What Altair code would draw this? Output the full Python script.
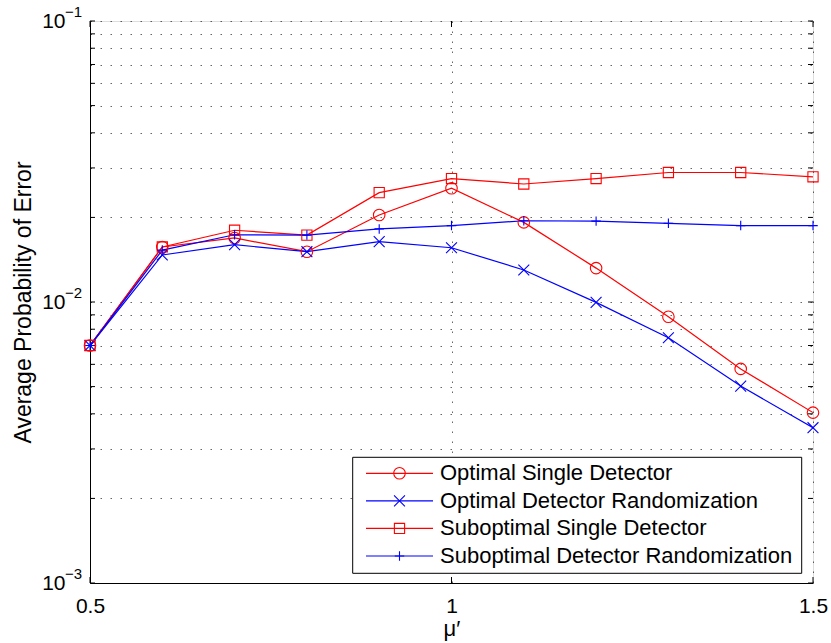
import altair as alt
import pandas as pd

# ---------------- data ----------------
mu = [0.5, 0.6, 0.7, 0.8, 0.9, 1.0, 1.1, 1.2, 1.3, 1.4, 1.5]
opt_single = [0.0070, 0.0157, 0.0169, 0.0151, 0.0204, 0.0254, 0.0192, 0.0132, 0.00886, 0.00578, 0.00404]
opt_rand = [0.0070, 0.0147, 0.0160, 0.0151, 0.0164, 0.0156, 0.0130, 0.00997, 0.00746, 0.00502, 0.00357]
sub_single = [0.0070, 0.0157, 0.0180, 0.0173, 0.0245, 0.0275, 0.0263, 0.0275, 0.0289, 0.0289, 0.0279]
sub_rand = [0.0070, 0.0153, 0.01735, 0.0173, 0.0182, 0.0187, 0.01946, 0.0194, 0.01906, 0.0187, 0.0187]

series_names = [
    "Optimal Single Detector",
    "Optimal Detector Randomization",
    "Suboptimal Single Detector",
    "Suboptimal Detector Randomization",
]
series_values = [opt_single, opt_rand, sub_single, sub_rand]

x_ticks = [0.5, 1.0, 1.5]
y_ticks = [0.001, 0.002, 0.003, 0.004, 0.005, 0.006, 0.007, 0.008, 0.009,
           0.01, 0.02, 0.03, 0.04, 0.05, 0.06, 0.07, 0.08, 0.09, 0.1]
y_major = [0.1, 0.01, 0.001]
y_exponents = ["\u22121", "\u22122", "\u22123"]

# ---------------- styles ----------------
FONT = "Liberation Sans"
X_PATH = "M-1,-1L1,1M-1,1L1,-1"
PLUS_PATH = "M-1,0L1,0M0,-1L0,1"
series_colors = ["#ff0000", "#0000ff", "#ff0000", "#0000ff"]
series_shapes = ["circle", X_PATH, "square", PLUS_PATH]
series_sizes = [133, 90, 114, 144]

W, H = 723, 562

rows = []
for name, vals in zip(series_names, series_values):
    for m, v in zip(mu, vals):
        rows.append({"mu": m, "p": v, "series": name})
df = pd.DataFrame(rows)

xscale = alt.Scale(domain=[0.5, 1.5], nice=False, zero=False)
yscale = alt.Scale(type="log", domain=[0.001, 0.1], nice=False)
color = alt.Color("series:N", scale=alt.Scale(domain=series_names, range=series_colors), legend=None)
shape = alt.Shape("series:N", scale=alt.Scale(domain=series_names, range=series_shapes), legend=None)
size = alt.Size("series:N", scale=alt.Scale(domain=series_names, range=series_sizes), legend=None)

grid_dash = [1.5, 8.5]
axis_style = dict(
    labelFont=FONT, titleFont=FONT, labelFontSize=21,
    labelColor="black", titleColor="black", titleFontWeight="normal",
    domainColor="black", domainWidth=1, ticks=False, tickSize=0,
    labelFlush=False, grid=True, gridDash=grid_dash, gridColor="#000000",
    gridOpacity=0.6,
)

lines = alt.Chart(df).mark_line(strokeWidth=1.2, clip=True).encode(
    x=alt.X("mu:Q", scale=xscale, axis=alt.Axis(
        values=x_ticks, format="~g", labelPadding=12, titleFontSize=22,
        title="\u03bc\u2032", titlePadding=2, **axis_style)),
    y=alt.Y("p:Q", scale=yscale, axis=alt.Axis(
        values=y_ticks,
        labelExpr="abs(log(datum.value)/LN10 - round(log(datum.value)/LN10)) < 1e-6 ? '10' : ''",
        labelPadding=25, labelOverlap=False, titleFontSize=23,
        title="Average Probability of Error", titlePadding=6, **axis_style)),
    color=color,
    detail="series:N",
)

points = alt.Chart(df).mark_point(filled=False, strokeWidth=1.1, opacity=1).encode(
    x=alt.X("mu:Q", scale=xscale),
    y=alt.Y("p:Q", scale=yscale),
    color=color, shape=shape, size=size,
)

ytick_df = pd.DataFrame({"v": y_ticks})
left_ticks = alt.Chart(ytick_df).mark_rule(color="black", strokeWidth=1).encode(
    y=alt.Y("v:Q", scale=yscale), x=alt.value(0), x2=alt.value(5))
right_ticks = alt.Chart(ytick_df).mark_rule(color="black", strokeWidth=1).encode(
    y=alt.Y("v:Q", scale=yscale), x=alt.value(W - 5), x2=alt.value(W))

xtick_df = pd.DataFrame({"m": x_ticks})
bottom_ticks = alt.Chart(xtick_df).mark_rule(color="black", strokeWidth=1).encode(
    x=alt.X("m:Q", scale=xscale), y=alt.value(H - 6), y2=alt.value(H))
top_ticks = alt.Chart(xtick_df).mark_rule(color="black", strokeWidth=1).encode(
    x=alt.X("m:Q", scale=xscale), y=alt.value(0), y2=alt.value(6))

exp_df = pd.DataFrame({"v": y_major, "e": y_exponents})
exponents = alt.Chart(exp_df).mark_text(
    align="left", baseline="middle", fontSize=15, dy=-9, font=FONT, color="black"
).encode(x=alt.value(-25), y=alt.Y("v:Q", scale=yscale), text="e:N")

main = alt.layer(lines, left_ticks, right_ticks, bottom_ticks, top_ticks, points, exponents)

# ---------------- legend (inside plot, bottom right) ----------------
leg_df = pd.DataFrame({"series": series_names})
leg_y = alt.Y("series:N", sort=series_names,
              scale=alt.Scale(type="point", domain=series_names, range=[452.3, 535.0], padding=0),
              axis=None)

box = alt.Chart(pd.DataFrame({"a": [0]})).mark_rect(
    fill="white", stroke="black", strokeWidth=1
).encode(x=alt.value(262.7), x2=alt.value(711.7), y=alt.value(436.3), y2=alt.value(552.3))

leg_lines = alt.Chart(leg_df).mark_rule(strokeWidth=1.2).encode(
    x=alt.value(276), x2=alt.value(343), y=leg_y, color=color)
leg_pts = alt.Chart(leg_df).mark_point(filled=False, strokeWidth=1.1, opacity=1).encode(
    x=alt.value(309.5), y=leg_y, color=color, shape=shape, size=size)
leg_text = alt.Chart(leg_df).mark_text(
    align="left", baseline="middle", fontSize=22, font=FONT, color="black"
).encode(x=alt.value(350), y=leg_y, text="series:N")

legend = alt.layer(box, leg_lines, leg_pts, leg_text)

chart = alt.layer(main, legend).resolve_scale(y="independent").properties(
    width=W, height=H,
    autosize=alt.AutoSizeParams(type="none"),
    padding={"left": 90, "top": 21, "right": 18, "bottom": 60},
).configure_view(
    stroke="black", strokeWidth=1
).configure(background="white")

chart.save("out.html", embed_options={"renderer": "svg", "actions": False})
